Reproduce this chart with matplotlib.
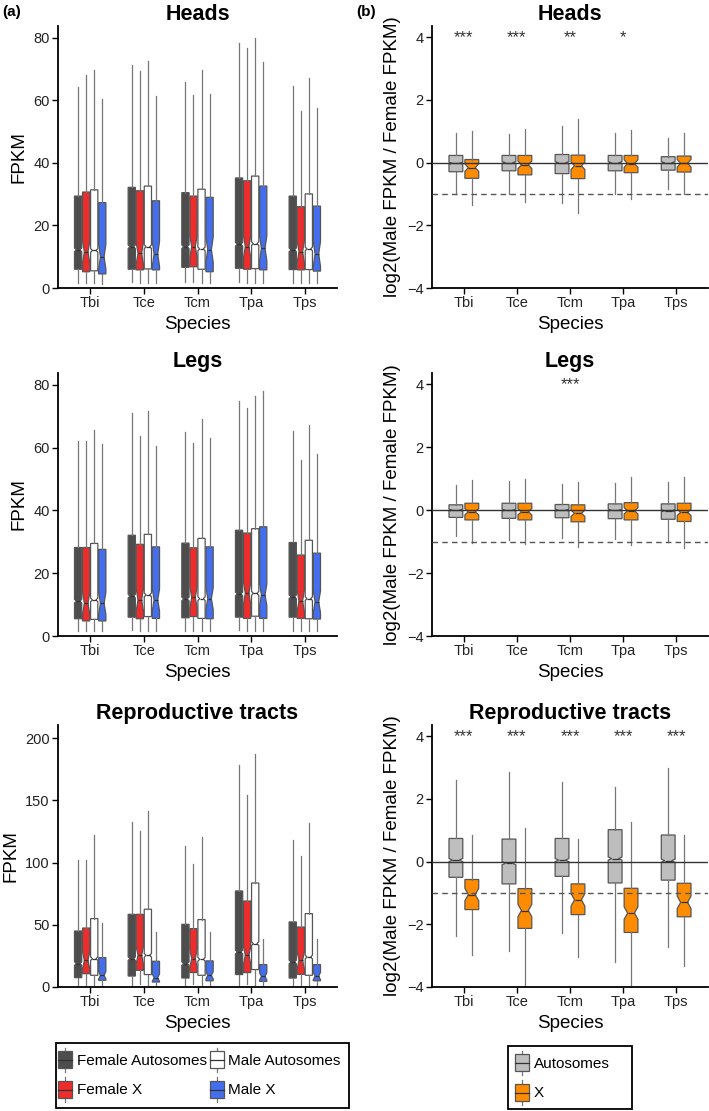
import matplotlib
matplotlib.use("Agg")
from matplotlib import pyplot as plt
from matplotlib.patches import Patch, Rectangle
from matplotlib.lines import Line2D
from matplotlib.legend_handler import HandlerBase

plt.rcParams['font.family'] = ['Liberation Sans', 'DejaVu Sans']

species = ["Tbi", "Tce", "Tcm", "Tpa", "Tps"]

left_groups = ["Female Autosomes", "Female X", "Male Autosomes", "Male X"]
left_colors = ["#4d4d4d", "#ee2c2c", "#ffffff", "#436eee"]
right_groups = ["Autosomes", "X"]
right_colors = ["#bebebe", "#ff8c00"]

# --- (a) FPKM, rows = groups, cols = species ---
heads_hi = [[64.2, 71.3, 66.0, 78.5, 64.6],
            [68.0, 69.3, 61.8, 76.7, 56.7],
            [69.8, 72.6, 69.8, 79.9, 67.1],
            [60.4, 61.4, 61.9, 72.4, 57.5]]
heads_q3 = [[29.4, 32.2, 30.5, 35.2, 29.4],
            [30.7, 31.1, 29.4, 34.3, 26.0],
            [31.4, 32.6, 31.6, 35.8, 30.1],
            [27.3, 27.9, 29.0, 32.6, 26.2]]
heads_med = [[12.2, 13.2, 13.2, 14.0, 12.2],
             [11.5, 11.1, 13.2, 13.2, 11.6],
             [12.0, 13.2, 12.5, 14.2, 12.5],
             [10.0, 10.9, 12.3, 12.7, 10.9]]
heads_q1 = [[6.0, 6.0, 6.6, 6.3, 5.9],
            [5.2, 5.8, 6.8, 6.0, 5.8],
            [5.5, 6.1, 6.0, 6.2, 5.9],
            [4.5, 5.8, 5.2, 5.8, 5.4]]
heads_lo = [[1.7, 1.8, 1.8, 1.8, 1.7],
            [1.5, 1.6, 1.8, 1.7, 1.6],
            [1.6, 1.7, 1.6, 1.7, 1.6],
            [1.4, 1.5, 1.5, 1.5, 1.5]]

legs_hi = [[62.1, 70.9, 65.1, 74.9, 65.3],
           [62.1, 63.7, 61.4, 72.8, 56.1],
           [65.6, 71.7, 69.3, 76.5, 67.2],
           [61.1, 60.6, 63.0, 78.0, 58.0]]
legs_q3 = [[28.2, 32.1, 29.6, 33.7, 29.8],
           [28.2, 29.2, 28.1, 32.8, 25.8],
           [29.5, 32.4, 31.1, 34.2, 30.5],
           [27.6, 28.4, 28.4, 34.8, 26.4]]
legs_med = [[11.1, 12.7, 11.8, 13.4, 12.5],
            [10.4, 11.5, 12.3, 13.6, 11.2],
            [11.5, 13.1, 11.9, 13.6, 11.9],
            [10.4, 11.5, 11.9, 13.1, 10.9]]
legs_q1 = [[5.5, 6.0, 5.8, 6.0, 6.0],
           [4.8, 5.5, 6.2, 5.6, 5.6],
           [5.3, 6.2, 5.6, 6.3, 5.5],
           [4.8, 5.6, 5.5, 5.6, 5.4]]
legs_lo = [[1.7, 1.8, 1.7, 1.8, 1.7],
           [1.5, 1.6, 1.7, 1.6, 1.6],
           [1.6, 1.7, 1.6, 1.7, 1.6],
           [1.5, 1.5, 1.5, 1.6, 1.5]]

repro_hi = [[101.8, 132.4, 113.0, 178.2, 118.5],
            [102.0, 125.4, 98.6, 154.1, 105.1],
            [122.5, 141.5, 120.6, 187.6, 131.8],
            [51.4, 44.2, 44.2, 38.3, 38.3]]
repro_q3 = [[45.0, 58.4, 50.4, 77.2, 52.3],
            [47.4, 58.4, 46.9, 69.1, 48.2],
            [55.0, 62.5, 54.2, 83.6, 59.0],
            [23.6, 20.7, 21.0, 18.0, 18.0]]
repro_med = [[18.8, 22.8, 18.8, 28.1, 20.1],
             [21.4, 25.5, 22.8, 25.5, 21.4],
             [22.8, 25.5, 22.3, 34.9, 24.1],
             [9.4, 7.5, 9.4, 8.5, 8.8]]
repro_q1 = [[7.5, 8.8, 7.2, 10.0, 7.2],
            [10.7, 13.4, 11.6, 11.6, 10.2],
            [9.4, 10.0, 9.4, 14.0, 9.4],
            [5.4, 4.0, 5.0, 4.5, 5.0]]
repro_lo = [[1.5, 1.5, 1.4, 1.6, 1.4],
            [2.0, 2.5, 2.2, 2.2, 2.0],
            [1.6, 1.6, 1.5, 2.0, 1.5],
            [1.0, 0.8, 0.9, 0.8, 0.9]]

# notch half-heights per group
heads_notch = [0.6, 3.5, 0.6, 4.0]
legs_notch = [0.6, 3.5, 0.6, 3.5]
repro_notch = [1.5, 7.0, 1.5, 3.0]

# --- (b) log2 ratio, rows = Autosomes, X ---
rheads_hi = [[0.96, 0.90, 1.17, 0.96, 0.80], [1.00, 1.08, 1.38, 1.03, 0.93]]
rheads_q3 = [[0.23, 0.23, 0.26, 0.23, 0.19], [0.10, 0.23, 0.24, 0.23, 0.21]]
rheads_med = [[-0.02, 0.0, 0.0, 0.0, 0.0], [-0.16, -0.07, -0.10, -0.03, -0.02]]
rheads_q1 = [[-0.29, -0.26, -0.35, -0.26, -0.24], [-0.50, -0.39, -0.51, -0.32, -0.30]]
rheads_lo = [[-1.01, -0.99, -1.28, -0.99, -0.85], [-1.35, -1.25, -1.62, -1.15, -0.99]]

rlegs_hi = [[0.80, 0.94, 0.83, 0.86, 0.88], [0.96, 0.99, 0.90, 1.04, 1.07]]
rlegs_q3 = [[0.17, 0.22, 0.18, 0.20, 0.20], [0.22, 0.22, 0.17, 0.24, 0.22]]
rlegs_med = [[0.0, 0.0, 0.0, 0.0, -0.02], [-0.05, -0.05, -0.10, -0.02, -0.07]]
rlegs_q1 = [[-0.23, -0.26, -0.24, -0.27, -0.29], [-0.31, -0.31, -0.37, -0.31, -0.36]]
rlegs_lo = [[-0.82, -0.95, -0.87, -0.93, -1.00], [-1.03, -1.06, -1.16, -1.10, -1.21]]

rrepro_hi = [[2.62, 2.85, 2.55, 2.37, 2.98], [0.85, 1.06, 0.72, 1.26, 0.86]]
rrepro_q3 = [[0.74, 0.72, 0.74, 1.02, 0.85], [-0.57, -0.86, -0.71, -0.85, -0.69]]
rrepro_med = [[0.05, -0.05, 0.05, 0.10, 0.03], [-1.05, -1.56, -1.22, -1.64, -1.30]]
rrepro_q1 = [[-0.50, -0.71, -0.47, -0.68, -0.59], [-1.53, -2.13, -1.69, -2.26, -1.76]]
rrepro_lo = [[-2.36, -2.86, -2.28, -3.19, -2.71], [-2.98, -4.30, -3.05, -4.30, -3.32]]

rheads_notch = [0.03, 0.12]
rlegs_notch = [0.03, 0.10]
rrepro_notch = [0.05, 0.20]

heads_stars = ["***", "***", "**", "*", ""]
legs_stars = ["", "", "***", "", ""]
repro_stars = ["***", "***", "***", "***", "***"]

W, H = 709, 1111
EDGE = "#555555"
WHISK = "#777777"


def px_axes(fig, x0, y0, x1, y1):
    return fig.add_axes([x0 / W, 1 - y1 / H, (x1 - x0) / W, (y1 - y0) / H])


def style_axes(ax, title, ylabel, yticks, ylim):
    for s in ["top", "right"]:
        ax.spines[s].set_visible(False)
    for s in ["left", "bottom"]:
        ax.spines[s].set_linewidth(1.3)
    ax.set_xlim(0.4, 5.6)
    ax.set_ylim(*ylim)
    ax.set_yticks(yticks)
    ax.set_xticks(range(1, 6))
    ax.set_xticklabels(species)
    ax.tick_params(labelsize=10.5, length=4, width=1, labelcolor="#222222", pad=2)
    ax.set_xlabel("Species", fontsize=13.5, labelpad=4)
    ax.set_ylabel(ylabel, fontsize=13.5, labelpad=4)
    ax.set_title(title, fontsize=15.5, fontweight="bold", pad=4)


def draw_boxes(ax, lo, q1, med, q3, hi, notch, colors, offsets, width):
    for g in range(len(colors)):
        stats = []
        for i in range(len(species)):
            stats.append(dict(whislo=lo[g][i], q1=q1[g][i], med=med[g][i],
                              q3=q3[g][i], whishi=hi[g][i],
                              cilo=med[g][i] - notch[g], cihi=med[g][i] + notch[g],
                              fliers=[]))
        pos = [i + 1 + offsets[g] for i in range(len(species))]
        ax.bxp(stats, positions=pos, widths=width, patch_artist=True,
               shownotches=True, showcaps=False, showfliers=False,
               boxprops=dict(facecolor=colors[g], edgecolor=EDGE, linewidth=0.9),
               whiskerprops=dict(color=WHISK, linewidth=0.9),
               medianprops=dict(color="#333333", linewidth=0.9),
               manage_ticks=False)


class BoxKey(HandlerBase):
    def create_artists(self, legend, orig_handle, xdescent, ydescent,
                       width, height, fontsize, trans):
        cx = width / 2 - xdescent
        bw = width
        bh = height * 0.68
        by = -ydescent + (height - bh) / 2
        wl = Line2D([cx, cx], [-ydescent, height - ydescent], color=WHISK,
                    linewidth=0.9, transform=trans)
        rect = Rectangle((cx - bw / 2, by), bw, bh, facecolor=orig_handle.get_facecolor(),
                         edgecolor=EDGE, linewidth=0.9, transform=trans)
        ml = Line2D([cx - bw / 2, cx + bw / 2], [by + bh / 2, by + bh / 2],
                    color="#333333", linewidth=0.9, transform=trans)
        return [wl, rect, ml]


def add_frame(fig, x0, y0, x1, y1):
    fig.patches.append(Rectangle((x0 / W, 1 - y1 / H), (x1 - x0) / W, (y1 - y0) / H,
                                 transform=fig.transFigure, fill=False,
                                 edgecolor="black", linewidth=1.3))


def main():
    fig = plt.figure(figsize=(W / 100, H / 100), dpi=100)

    rows = [(26, 288), (373, 636), (725, 987)]
    titles = ["Heads", "Legs", "Reproductive tracts"]
    left_data = [
        (heads_lo, heads_q1, heads_med, heads_q3, heads_hi, heads_notch, [0, 20, 40, 60, 80], (0, 83.8)),
        (legs_lo, legs_q1, legs_med, legs_q3, legs_hi, legs_notch, [0, 20, 40, 60, 80], (0, 83.8)),
        (repro_lo, repro_q1, repro_med, repro_q3, repro_hi, repro_notch, [0, 50, 100, 150, 200], (0, 210.6)),
    ]
    right_data = [
        (rheads_lo, rheads_q1, rheads_med, rheads_q3, rheads_hi, rheads_notch, heads_stars),
        (rlegs_lo, rlegs_q1, rlegs_med, rlegs_q3, rlegs_hi, rlegs_notch, legs_stars),
        (rrepro_lo, rrepro_q1, rrepro_med, rrepro_q3, rrepro_hi, rrepro_notch, repro_stars),
    ]

    for r, (y0, y1) in enumerate(rows):
        lo, q1, med, q3, hi, notch, ticks, lim = left_data[r]
        ax = px_axes(fig, 58, y0, 337, y1)
        draw_boxes(ax, lo, q1, med, q3, hi, notch, left_colors,
                   [-0.225, -0.075, 0.075, 0.225], 0.135)
        style_axes(ax, titles[r], "FPKM", ticks, lim)

        lo, q1, med, q3, hi, notch, stars = right_data[r]
        ax = px_axes(fig, 432, y0, 708, y1)
        draw_boxes(ax, lo, q1, med, q3, hi, notch, right_colors, [-0.15, 0.15], 0.26)
        ax.axhline(0, color="#333333", linewidth=1.0, zorder=5)
        ax.axhline(-1, color="#555555", linewidth=1.0, dashes=(4, 3), zorder=5)
        for i, s in enumerate(stars):
            if s:
                ax.text(i + 1, 4, s, ha="center", va="center", fontsize=12, color="#333333")
        style_axes(ax, titles[r], "log2(Male FPKM / Female FPKM)", [-4, -2, 0, 2, 4], (-4, 4.36))

    fig.text(2 / W, 1 - 12 / H, "(a)", fontsize=11, fontweight="bold", va="center")
    fig.text(356 / W, 1 - 12 / H, "(b)", fontsize=11, fontweight="bold", va="center")

    common = dict(loc="upper left", bbox_transform=fig.transFigure, borderaxespad=0,
                  fontsize=11, handler_map={Patch: BoxKey()}, handlelength=0.92,
                  handleheight=2.14, handletextpad=0.3, labelspacing=0.3,
                  borderpad=0, frameon=False)
    lh = [Patch(facecolor=c) for c in left_colors]
    fig.legend(lh, left_groups, ncol=2, columnspacing=0.2,
               bbox_to_anchor=(58 / W, 1 - 1047.5 / H), **common)
    add_frame(fig, 56, 1043, 349, 1108)
    rh = [Patch(facecolor=c) for c in right_colors]
    fig.legend(rh, right_groups, ncol=1,
               bbox_to_anchor=(515 / W, 1 - 1050.5 / H), **common)
    add_frame(fig, 508, 1046, 632, 1109)

    fig.savefig("out.png", dpi=100)


if __name__ == '__main__':
    main()
